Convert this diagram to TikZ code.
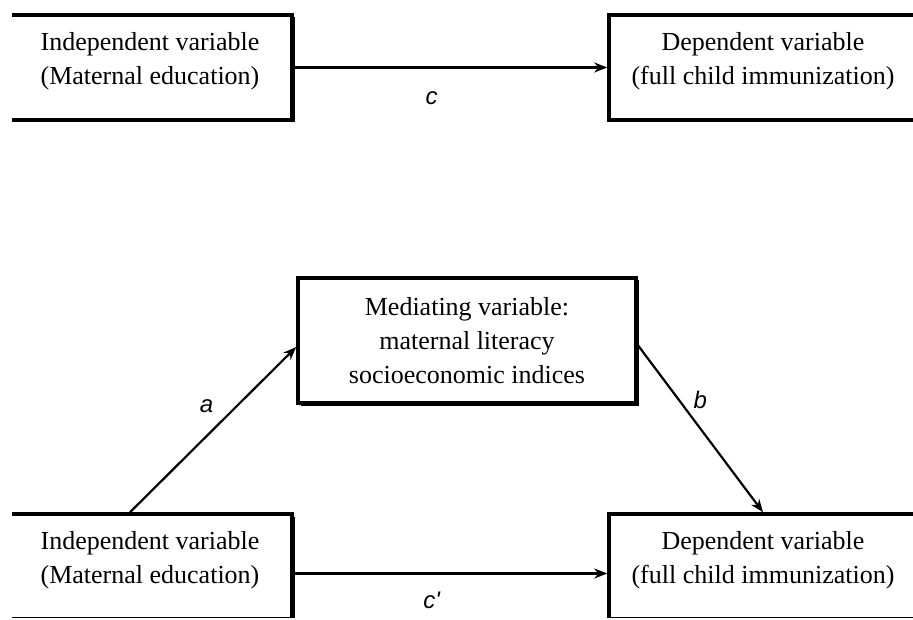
\documentclass[tikz,border=0pt]{standalone}
\usepackage{fontspec}
\setmainfont{Liberation Serif}
\newfontfamily\lblfont{Liberation Sans}
\usetikzlibrary{arrows.meta,shadows}

\begin{document}
\begin{tikzpicture}[x=1pt,y=-1pt,
  varbox/.style={draw,line width=3.5pt,fill=white,align=center,
    font=\fontsize{26}{34}\selectfont,
    drop shadow={shadow xshift=2.5pt,shadow yshift=-2.5pt,fill=black,opacity=1}},
  lbl/.style={font=\lblfont\itshape\fontsize{24}{24}\selectfont},
  link/.style={line width=2.2pt,-{Stealth[length=13pt,width=10pt]}}]

\useasboundingbox (0,0) rectangle (913,620);
\begin{scope}
\clip (12,0) rectangle (913,617);

% top: total effect
\node[varbox,minimum width=284pt,minimum height=105pt,text depth=19pt] (ind1) at (150,67.5)
  {Independent variable\\(Maternal education)};
\node[varbox,minimum width=308pt,minimum height=105pt,text depth=19pt] (dep1) at (763,67.5)
  {Dependent variable\\(full child immunization)};

% bottom: mediation
\node[varbox,minimum width=338pt,minimum height=125pt] (med) at (467,340.5)
  {Mediating variable:\\maternal literacy\\socioeconomic indices};
\node[varbox,minimum width=284pt,minimum height=105pt,text depth=19pt] (ind2) at (150,566.5)
  {Independent variable\\(Maternal education)};
\node[varbox,minimum width=308pt,minimum height=105pt,text depth=19pt] (dep2) at (763,566.5)
  {Dependent variable\\(full child immunization)};
\end{scope}

%arrows
\draw[link] (ind1.east) -- (dep1.west) node[lbl,pos=0.44,yshift=-31pt] (c) {c};
\draw[link] ([xshift=-20pt]ind2.north) -- ([yshift=-6.5pt]med.west) node[lbl,pos=0.46,yshift=30pt] (a) {a};
\draw[link] ([yshift=-4.5pt]med.east) -- (dep2.north) node[lbl,pos=0.5,yshift=29pt] (b) {b};
\draw[link] ([yshift=-7pt]ind2.east) -- ([yshift=-7pt]dep2.west) node[lbl,pos=0.44,yshift=-27pt] (cp) {c'};

\end{tikzpicture}
\end{document}
